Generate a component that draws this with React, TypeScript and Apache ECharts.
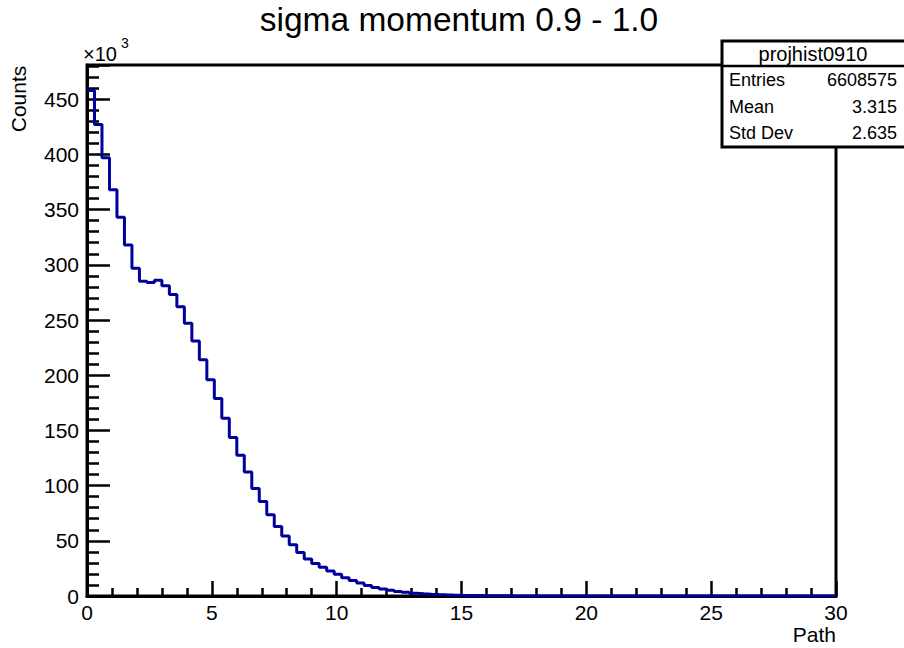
import React, { useEffect, useRef } from "react";
import * as echarts from "echarts";

// Histogram: 100 bins of width 0.3 over Path 0..30, counts in units of 10^3
const binWidth = 0.3;
const binCount = 100;
const counts: number[] = [
  458, 427, 397, 368, 343, 318, 297, 285, 284, 286,
  281, 273, 262, 247, 231, 214, 196, 179, 161, 143.5,
  127.5, 112.4, 97.4, 85.5, 73.5, 63, 54.3, 46.5, 39.5, 33.5,
  29.5, 26, 22.7, 19.6, 16.6, 14, 11.7, 9.6, 7.8, 6.3,
  5.1, 4.1, 3.3, 2.6, 2.1, 1.7, 1.35, 1.05, 0.85, 0.68,
  0.54, 0.43, 0.34, 0.27, 0.21, 0.17, 0.13, 0.1, 0.08, 0.06,
  0.05, 0.04, 0.03, 0.02, 0.02, 0.01, 0.01, 0.01, 0.005, 0.004,
  0.003, 0.002, 0.002, 0.001, 0.001, 0, 0, 0, 0, 0,
  0, 0, 0, 0, 0, 0, 0, 0, 0, 0,
  0, 0, 0, 0, 0, 0, 0, 0, 0, 0,
];
const xTicks = [0, 5, 10, 15, 20, 25, 30];
const yTicks = [0, 50, 100, 150, 200, 250, 300, 350, 400, 450];

const titleText = "sigma momentum 0.9 - 1.0";
const statsName = "projhist0910";
const statsLabels = ["Entries", "Mean", "Std Dev"];
const statsValues = ["6608575", "3.315", "2.635"];

const FONT = "'Liberation Sans', Arial, Helvetica, sans-serif";

export default function App() {
  const ref = useRef<HTMLDivElement>(null);
  useEffect(() => {
    document.body.style.margin = "0";
    if (!ref.current) return;
    const chart = echarts.init(ref.current, null, { renderer: "svg" });

    const stepData: number[][] = [];
    for (let i = 0; i < binCount; i++) {
      stepData.push([i * binWidth, counts[i]]);
    }
    stepData.push([binCount * binWidth, counts[binCount - 1]]);

    const gridLeft = 87, gridTop = 65, gridRight = 836, gridBottom = 596;

    const statsTop = 41, rowH = 26.5;
    const txt = (size: number, extra: any) => ({ fontSize: size, fontFamily: FONT, fill: "#000", ...extra });
    const statsGraphics: any[] = [
      {
        type: "rect",
        shape: { x: 722, y: statsTop, width: 200, height: 106 },
        style: { fill: "#fff", stroke: "#000", lineWidth: 3 },
        z: 100,
      },
      {
        type: "line",
        shape: { x1: 722, y1: 66, x2: 904, y2: 66 },
        style: { stroke: "#000", lineWidth: 2.5 },
        z: 101,
      },
      {
        type: "text",
        x: 813,
        y: 54,
        style: txt(20, { text: statsName, align: "center", verticalAlign: "middle" }),
        z: 102,
      },
    ];
    statsLabels.forEach((lab, i) => {
      statsGraphics.push({
        type: "text",
        x: 729,
        y: 80 + i * rowH,
        style: txt(18, { text: lab, align: "left", verticalAlign: "middle" }),
        z: 102,
      });
      statsGraphics.push({
        type: "text",
        x: 897,
        y: 80 + i * rowH,
        style: txt(18, { text: statsValues[i], align: "right", verticalAlign: "middle" }),
        z: 102,
      });
    });

    chart.setOption({
      animation: false,
      backgroundColor: "#fff",
      grid: {
        left: gridLeft,
        top: gridTop,
        right: 904 - gridRight,
        bottom: 648 - gridBottom,
        show: true,
        borderColor: "#000",
        borderWidth: 3,
        backgroundColor: "#fff",
      },
      xAxis: {
        type: "value",
        min: xTicks[0],
        max: xTicks[xTicks.length - 1],
        interval: 5,
        axisLine: { show: true, onZero: false, lineStyle: { color: "#000", width: 3 } },
        axisTick: { show: true, inside: true, length: 15, lineStyle: { color: "#000", width: 2.5 } },
        minorTick: { show: true, splitNumber: 5, length: 8, lineStyle: { color: "#000", width: 2.5 } },
        splitLine: { show: false },
        axisLabel: { color: "#000", fontSize: 21, fontFamily: FONT, margin: 6 },
      },
      yAxis: {
        type: "value",
        min: yTicks[0],
        max: 481,
        interval: 50,
        axisLine: { show: true, onZero: false, lineStyle: { color: "#000", width: 3 } },
        axisTick: { show: true, inside: true, length: 23, lineStyle: { color: "#000", width: 2.5 } },
        minorTick: { show: true, splitNumber: 5, length: 12, lineStyle: { color: "#000", width: 2.5 } },
        splitLine: { show: false },
        axisLabel: { color: "#000", fontSize: 21, fontFamily: FONT, margin: 8, showMaxLabel: false },
      },
      series: [
        {
          type: "line",
          data: stepData,
          step: "end",
          showSymbol: false,
          symbol: "none",
          lineStyle: { color: "#00009c", width: 3 },
          z: 5,
        },
      ],
      graphic: [
        {
          type: "text",
          x: 459,
          y: 19,
          style: txt(33.5, { text: titleText, align: "center", verticalAlign: "middle" }),
        },
        {
          type: "text",
          x: 83,
          y: 54,
          style: txt(20, { text: "×10", align: "left", verticalAlign: "middle" }),
        },
        {
          type: "text",
          x: 121,
          y: 43,
          style: txt(14, { text: "3", align: "left", verticalAlign: "middle" }),
        },
        {
          type: "text",
          x: 18,
          y: 99,
          rotation: Math.PI / 2,
          style: txt(21, { text: "Counts", align: "center", verticalAlign: "middle" }),
        },
        {
          type: "text",
          x: 836,
          y: 634,
          style: txt(21, { text: "Path", align: "right", verticalAlign: "middle" }),
        },
        ...statsGraphics,
      ],
    });
    return () => chart.dispose();
  }, []);
  return <div ref={ref} style={{ width: 904, height: 648 }} />;
}
